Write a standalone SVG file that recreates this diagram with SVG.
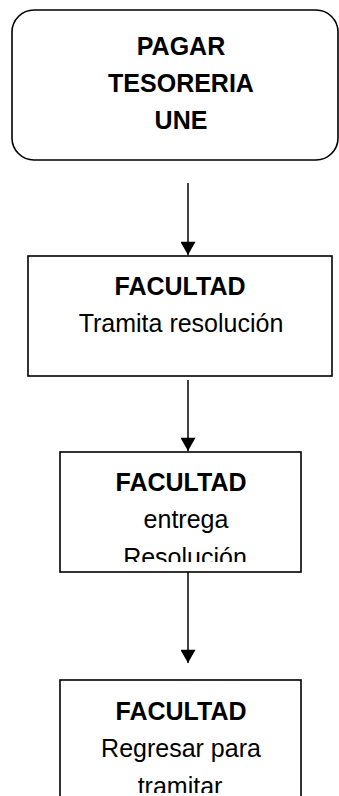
<svg xmlns="http://www.w3.org/2000/svg" width="339" height="796" viewBox="0 0 339 796">
<style>
.box{fill:#fff;stroke:#000;stroke-width:1.6}
.t{font-family:"Liberation Sans",Arial,sans-serif;font-size:25px;fill:#000;text-anchor:middle}
.b{font-weight:bold}
.c{stroke:#000;stroke-width:1.5;fill:none}
</style>
<defs>
<marker id="ah" markerWidth="17" markerHeight="15" refX="15" refY="8.5" orient="auto" markerUnits="userSpaceOnUse" viewBox="0 0 15 17">
<path d="M0,0 L15,8.5 L0,17 Z" fill="#000"/>
</marker>
<clipPath id="c3"><rect x="60" y="452" width="241" height="110"/></clipPath>
<clipPath id="c4"><rect x="60" y="680" width="241" height="113"/></clipPath>
</defs>
<g id="connectors">
<line class="c" x1="188" y1="183" x2="188" y2="255" marker-end="url(#ah)"/>
<line class="c" x1="188" y1="380" x2="188" y2="451" marker-end="url(#ah)"/>
<line class="c" x1="188" y1="567" x2="188" y2="663" marker-end="url(#ah)"/>
</g>
<g id="n1">
<rect class="box" x="12" y="10" width="326" height="150" rx="22" ry="22"/>
<text class="t b" font-size="26" x="181" y="55">PAGAR</text>
<text class="t b" font-size="26" x="181" y="92">TESORERIA</text>
<text class="t b" font-size="26" x="181" y="129">UNE</text>
</g>
<g id="n2">
<rect class="box" x="28" y="256" width="304" height="120"/>
<text class="t b" x="180" y="295">FACULTAD</text>
<text class="t" x="181" y="332">Tramita resolución</text>
</g>
<g id="n3">
<rect class="box" x="60" y="452" width="241" height="120"/>
<g clip-path="url(#c3)">
<text class="t b" x="181" y="491">FACULTAD</text>
<text class="t" x="186" y="528">entrega</text>
<text class="t" x="185" y="566">Resolución</text>
</g>
</g>
<g id="n4">
<rect class="box" x="60" y="680" width="241" height="130"/>
<g clip-path="url(#c4)">
<text class="t b" x="181" y="720">FACULTAD</text>
<text class="t" x="181" y="757">Regresar para</text>
<text class="t" x="180" y="795">tramitar</text>
</g>
</g>
</svg>
